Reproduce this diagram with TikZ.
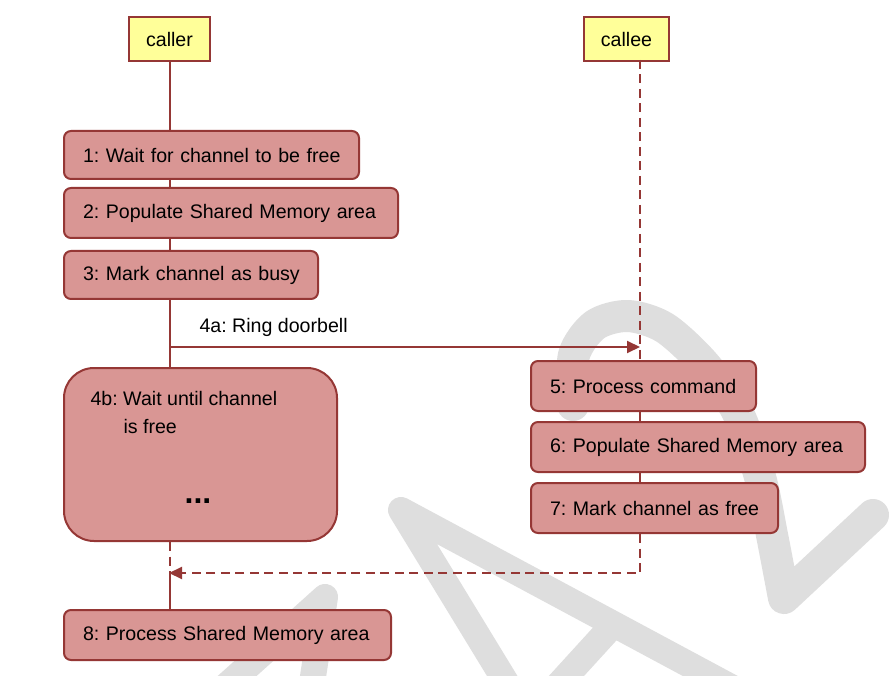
\documentclass[tikz,border=0pt]{standalone}
\usepackage{fontspec}
\setmainfont{Liberation Sans}
\usetikzlibrary{arrows.meta}
\definecolor{boxfill}{RGB}{217,150,148}
\definecolor{bord}{RGB}{149,55,53}
\definecolor{actfill}{RGB}{255,255,153}
\definecolor{wm}{RGB}{222,222,222}
\begin{document}
\frenchspacing
\begin{tikzpicture}[x=1pt,y=-1pt,
  stepbox/.style={draw=bord, fill=boxfill, line width=2pt, rounded corners=7pt, anchor=north west, inner xsep=19pt, inner ysep=0pt, align=left, font=\fontsize{19.6}{24}\selectfont\frenchspacing},
  actor/.style={draw=bord, fill=actfill, line width=2pt, anchor=north west, inner sep=0pt, font=\fontsize{19.6}{24}\selectfont},
  life/.style={draw=bord, line width=2pt},
  lifedash/.style={life, dash pattern=on 9pt off 5.5pt},
  tip/.style={-{Triangle[length=13pt,width=12pt]}},
  wmark/.style={draw=wm, line width=28pt, line cap=round, line join=round},
  lbl/.style={font=\fontsize{19.6}{24}\selectfont\frenchspacing}]
\useasboundingbox (0,0) rectangle (889,676);
\fill[white] (0,0) rectangle (889,676);
% watermark
\draw[wmark, line width=32pt] plot[smooth] coordinates {(573,405) (574,355) (595,325) (628,316) (665,328) (705,365) (738,413) (760,477) (772,535) (784,598)} -- (873,515);
\draw[wmark, line width=26pt] (512,692) -- (401,510) -- (742,693);
\draw[wmark, line width=26pt] (612,626) -- (550,694);
\draw[wmark, line width=26pt] (226,686) -- (325,597) -- (311,690);
% actors
\node[actor, minimum width=81pt, minimum height=44pt] (caller) at (128,16) {caller};
\node[actor, minimum width=85pt, minimum height=44pt] (callee) at (583,16) {callee};
\coordinate (calleeline) at (640,60);
% caller steps
\node[stepbox, minimum width=295pt, minimum height=48pt, text width=257pt] (s1) at (63,130) {\mbox{1: Wait for channel to be free}};
\node[stepbox, minimum width=334pt, minimum height=50pt, text width=296pt] (s2) at (63,187) {\mbox{2: Populate Shared Memory area}};
\node[stepbox, minimum width=254pt, minimum height=48pt, text width=216pt] (s3) at (63,250) {\mbox{3: Mark channel as busy}};
\node[stepbox, rounded corners=30pt, minimum width=273pt, minimum height=173pt] (s4b) at (63,367) {};
\node[lbl, anchor=base west] (t4b1) at (87,405) {4b: Wait until channel};
\node[lbl, anchor=base west] (t4b2) at (120,433) {is free};
\node[anchor=base, font=\fontsize{32}{36}\selectfont\bfseries] (dots) at (198,503) {...};
\node[stepbox, minimum width=327pt, minimum height=50pt, text width=289pt] (s8) at (63,609) {\mbox{8: Process Shared Memory area}};
% callee steps
\node[stepbox, minimum width=225pt, minimum height=50pt, text width=187pt] (s5) at (530,360) {\mbox{5: Process command}};
\node[stepbox, minimum width=334pt, minimum height=50pt, text width=296pt] (s6) at (530,421) {\mbox{6: Populate Shared Memory area}};
\node[stepbox, minimum width=247pt, minimum height=50pt, text width=209pt] (s7) at (530,482) {\mbox{7: Mark channel as free}};
% caller lifeline
\draw[life] (caller.south) -- (caller.south |- s1.north);
\draw[life] (caller.south |- s1.south) -- (caller.south |- s2.north);
\draw[life] (caller.south |- s2.south) -- (caller.south |- s3.north);
\draw[life] (caller.south |- s3.south) -- (caller.south |- s4b.north);
% message 4a
\node[lbl, anchor=base west] (l4a) at (196,333) {4a: Ring doorbell};
\coordinate (r4a) at (170,347);
\draw[life, tip] (r4a) -- (r4a -| calleeline);
% callee lifeline
\draw[lifedash] (calleeline) -- (calleeline |- s5.north);
\draw[life] (calleeline |- s5.south) -- (calleeline |- s6.north);
\draw[life] (calleeline |- s6.south) -- (calleeline |- s7.north);
% return
\coordinate (ret) at (169,573);
\draw[lifedash, tip] (calleeline |- s7.south) -- (calleeline |- ret) -- (ret);
\draw[lifedash] (caller.south |- s4b.south) -- (caller.south |- ret);
\draw[life] (caller.south |- ret) -- (caller.south |- s8.north);
\end{tikzpicture}
\end{document}
